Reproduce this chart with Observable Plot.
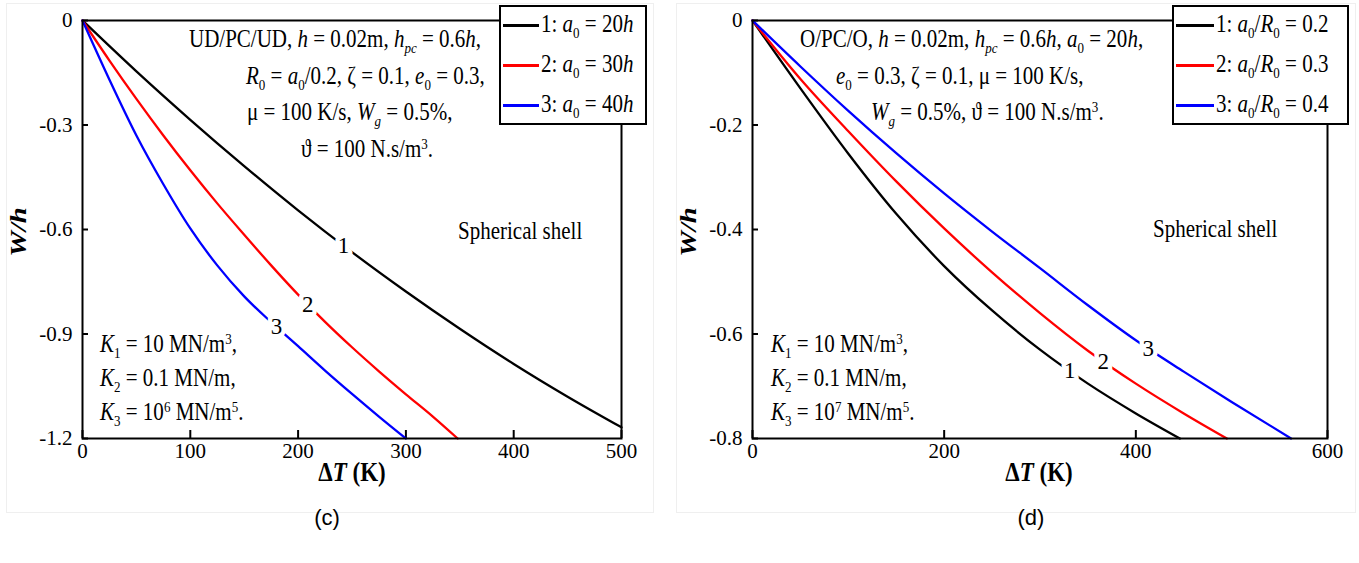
<!DOCTYPE html>
<html><head><meta charset="utf-8">
<script src="https://cdn.jsdelivr.net/npm/d3@7"></script>
<script src="https://cdn.jsdelivr.net/npm/@observablehq/plot@0.6"></script>
<style>
body{margin:0;background:#fff;}
#root{position:relative;width:1359px;height:563px;overflow:hidden;font-family:"Liberation Serif","Times New Roman",serif;color:#000;background:#fff;}
#root svg{position:absolute;top:0;}
#root svg text{font-family:"Liberation Serif","Times New Roman",serif !important;}
.abs{position:absolute;white-space:nowrap;line-height:1;}
.t{font-size:21px;transform:scaleY(1.2);transform-origin:0 50%;}
.t i{font-style:italic;}
.t sub{font-size:0.62em;vertical-align:-0.35em;line-height:0;}
.t sup{font-size:0.62em;vertical-align:0.55em;line-height:0;}
.leg{position:absolute;border:2px solid #000;background:#fff;box-sizing:border-box;}
.leg .row{position:absolute;left:0;right:0;height:0;}
.leg .sw{position:absolute;height:3px;top:-1.5px;}
.leg .lt{position:absolute;top:-11px;}
.ylab{font-size:24px;font-weight:bold;font-style:italic;}
.xlab{font-size:23px;font-weight:bold;}
.cap{font-family:"Liberation Sans",Arial,sans-serif;font-size:22px;}
.frame-bg{position:absolute;border:1px solid #efefef;box-sizing:border-box;}
</style></head>
<body><div id="root"></div>
<script>
// ---------- data (panel c) ----------
const cX1 = [0,50,100,150,200,250,300,350,400,450,500];
const cW1 = [0,-0.146,-0.285,-0.418,-0.545,-0.665,-0.778,-0.885,-0.986,-1.08,-1.168];
const cX2 = [0,25,50,75,100,125,150,175,200,225,250,275,300,325,348];
const cW2 = [0,-0.115,-0.225,-0.33,-0.43,-0.525,-0.615,-0.703,-0.787,-0.865,-0.938,-1.007,-1.073,-1.137,-1.2];
const cX3 = [0,25,50,75,100,125,150,175,200,225,250,275,300];
const cW3 = [0,-0.17,-0.33,-0.47,-0.597,-0.703,-0.792,-0.866,-0.935,-1.005,-1.072,-1.137,-1.2];
const cLabelAt = [242,209,180];
const cXTicks = [0,100,200,300,400,500];
const cYTicks = [0,-0.3,-0.6,-0.9,-1.2];
// ---------- data (panel d) ----------
const dX1 = [0,50,100,150,200,250,300,350,400,446];
const dW1 = [0,-0.13,-0.255,-0.37,-0.47,-0.555,-0.63,-0.695,-0.752,-0.8];
const dX2 = [0,50,100,150,200,250,300,350,400,450,495];
const dW2 = [0,-0.112,-0.212,-0.308,-0.398,-0.482,-0.56,-0.632,-0.695,-0.752,-0.8];
const dX3 = [0,50,100,150,200,250,300,350,400,450,500,562];
const dW3 = [0,-0.088,-0.173,-0.254,-0.331,-0.404,-0.474,-0.545,-0.612,-0.672,-0.73,-0.8];
const dLabelAt = [331,366,413];
const dXTicks = [0,200,400,600];
const dYTicks = [0,-0.2,-0.4,-0.6,-0.8];
const seriesNames = ["1","2","3"];
const colors = ["#000000","#ff0000","#0000ff"];

function interp(xs, ys, x){
  const i = Math.min(xs.length-1, Math.max(1, d3.bisectLeft(xs, x)));
  const t = (x - xs[i-1])/(xs[i]-xs[i-1]);
  return ys[i-1] + t*(ys[i]-ys[i-1]);
}

function panel({xs, ws, labelAt, xTicks, yTicks, xDomain, yDomain, width, height, mL, mR, mT, mB}){
  const innerW = width - mL - mR, innerH = height - mT - mB;
  const lines = xs.map((X, k) => Plot.line(X.map((x,i)=>({x, w: ws[k][i]})), {x:"x", y:"w", stroke: colors[k], strokeWidth: 2.3, curve:"monotone-x"}));
  const labs = labelAt.map((x,k)=>({x, w: interp(xs[k], ws[k], x), t: seriesNames[k]}));
  const fmt = d => d === 0 ? "0" : d.toFixed(1);
  const svg = Plot.plot({
    width, height, marginLeft: mL, marginRight: mR, marginTop: mT, marginBottom: mB,
    style:{fontFamily:"'Liberation Serif', serif", fontSize:"21px", background:"transparent", overflow:"visible", color:"#000"},
    x:{domain:xDomain, label:null},
    y:{domain:yDomain, label:null},
    marks:[
      Plot.axisX({ticks:xTicks, tickSize:0, tickPadding:5, tickFormat:d=>String(d), label:null, fontSize:21}),
      Plot.axisY({ticks:yTicks, tickSize:0, tickPadding:10, tickFormat:fmt, label:null, fontSize:21}),
      Plot.tickX(xTicks, {x:d=>d, insetTop: innerH-8, stroke:"#000", strokeWidth:2}),
      Plot.tickY(yTicks, {y:d=>d, insetRight: innerW-6, stroke:"#000", strokeWidth:2}),
      ...lines,
      Plot.text(labs, {x:"x", y:"w", text:"t", fill:"#000", stroke:"#fff", strokeWidth:9, fontSize:23}),
      Plot.frame({stroke:"#000", strokeWidth:2})
    ]
  });
  svg.querySelectorAll("text").forEach(t => t.setAttribute("font-family", "Liberation Serif, Times New Roman, serif"));
  return svg;
}

const root = document.getElementById("root");
// faint picture borders
[[6,3,648,510],[676,3,680,510]].forEach(([l,t,w,h])=>{
  const d=document.createElement("div"); d.className="frame-bg";
  Object.assign(d.style,{left:l+"px",top:t+"px",width:w+"px",height:h+"px"}); root.appendChild(d);
});
const svgC = panel({xs:[cX1,cX2,cX3], ws:[cW1,cW2,cW3], labelAt:cLabelAt, xTicks:cXTicks, yTicks:cYTicks,
  xDomain:[0,500], yDomain:[-1.2,0], width:680, height:563, mL:82, mR:59, mT:20, mB:125});
svgC.style.left = "0px";
root.appendChild(svgC);
const svgD = panel({xs:[dX1,dX2,dX3], ws:[dW1,dW2,dW3], labelAt:dLabelAt, xTicks:dXTicks, yTicks:dYTicks,
  xDomain:[0,600], yDomain:[-0.8,0], width:679, height:563, mL:72, mR:32, mT:20, mB:125});
svgD.style.left = "680px";
root.appendChild(svgD);

function addText(html, left, cy, cls, extra){
  const d = document.createElement("div");
  d.className = "abs " + cls;
  d.innerHTML = html;
  d.style.left = left + "px";
  d.style.top = (cy - 11) + "px";
  if (extra) Object.assign(d.style, extra);
  root.appendChild(d);
  return d;
}
// annotations panel c
addText('UD/PC/UD, <i>h</i> = 0.02m, <i>h</i><sub><i>pc</i></sub> = 0.6<i>h</i>,', 189, 40, "t");
addText('<i>R</i><sub>0</sub> = <i>a</i><sub>0</sub>/0.2, ζ = 0.1, <i>e</i><sub>0</sub> = 0.3,', 246, 77, "t");
addText('μ = 100 K/s, <i>W</i><sub><i>g</i></sub> = 0.5%,', 247, 113, "t");
addText('ϑ = 100 N.s/m<sup>3</sup>.', 301, 150, "t");
addText('Spherical shell', 458, 232, "t");
addText('<i>K</i><sub>1</sub> = 10 MN/m<sup>3</sup>,', 100, 345, "t");
addText('<i>K</i><sub>2</sub> = 0.1 MN/m,', 100, 379, "t");
addText('<i>K</i><sub>3</sub> = 10<sup>6</sup> MN/m<sup>5</sup>.', 100, 413, "t");
// annotations panel d
addText('O/PC/O, <i>h</i> = 0.02m, <i>h</i><sub><i>pc</i></sub> = 0.6<i>h</i>, <i>a</i><sub>0</sub> = 20<i>h</i>,', 800, 40, "t");
addText('<i>e</i><sub>0</sub> = 0.3, ζ = 0.1, μ = 100 K/s,', 836, 77, "t");
addText('<i>W</i><sub><i>g</i></sub> = 0.5%, ϑ = 100 N.s/m<sup>3</sup>.', 871, 113, "t");
addText('Spherical shell', 1153, 230, "t");
addText('<i>K</i><sub>1</sub> = 10 MN/m<sup>3</sup>,', 771, 345, "t");
addText('<i>K</i><sub>2</sub> = 0.1 MN/m,', 771, 379, "t");
addText('<i>K</i><sub>3</sub> = 10<sup>7</sup> MN/m<sup>5</sup>.', 771, 413, "t");

// legends
const legC = ['1: <i>a</i><sub>0</sub> = 20<i>h</i>','2: <i>a</i><sub>0</sub> = 30<i>h</i>','3: <i>a</i><sub>0</sub> = 40<i>h</i>'];
const legD = ['1: <i>a</i><sub>0</sub>/<i>R</i><sub>0</sub> = 0.2','2: <i>a</i><sub>0</sub>/<i>R</i><sub>0</sub> = 0.3','3: <i>a</i><sub>0</sub>/<i>R</i><sub>0</sub> = 0.4'];
function legend(items, left, width, swW){
  const box = document.createElement("div");
  box.className = "leg";
  Object.assign(box.style, {left:left+"px", top:"5px", width:width+"px", height:"120px"});
  items.forEach((h,k)=>{
    const row = document.createElement("div");
    row.className = "row";
    row.style.top = (18 + 40*k) + "px";
    row.innerHTML = `<div class="sw" style="left:2px;width:${swW}px;background:${colors[k]}"></div><div class="lt abs t" style="left:${swW+4}px">${h}</div>`;
    box.appendChild(row);
  });
  root.appendChild(box);
}
legend(legC, 499, 148, 36);
legend(legD, 1172, 177, 38);

// axis titles
function ylab(cx, cy){
  const d = document.createElement("div");
  d.className = "abs ylab";
  d.textContent = "W/h";
  Object.assign(d.style, {left:(cx-25)+"px", top:(cy-12)+"px", width:"50px", textAlign:"center", transform:"rotate(-90deg) scaleX(1.2)"});
  root.appendChild(d);
}
ylab(18, 232); ylab(688, 232);
function xlab(cx, cy){
  const d = document.createElement("div");
  d.className = "abs xlab";
  d.innerHTML = 'Δ<i>T</i> (K)';
  Object.assign(d.style, {left:(cx-50)+"px", top:(cy-12)+"px", width:"100px", textAlign:"center", transform:"scaleY(1.2)"});
  root.appendChild(d);
}
xlab(352, 472); xlab(1039, 472);
function cap(txt, cx, cy){
  const d = document.createElement("div");
  d.className = "abs cap";
  d.textContent = txt;
  Object.assign(d.style, {left:(cx-30)+"px", top:(cy-11)+"px", width:"60px", textAlign:"center"});
  root.appendChild(d);
}
cap("(c)", 327, 518); cap("(d)", 1031, 518);
</script>
</body></html>
